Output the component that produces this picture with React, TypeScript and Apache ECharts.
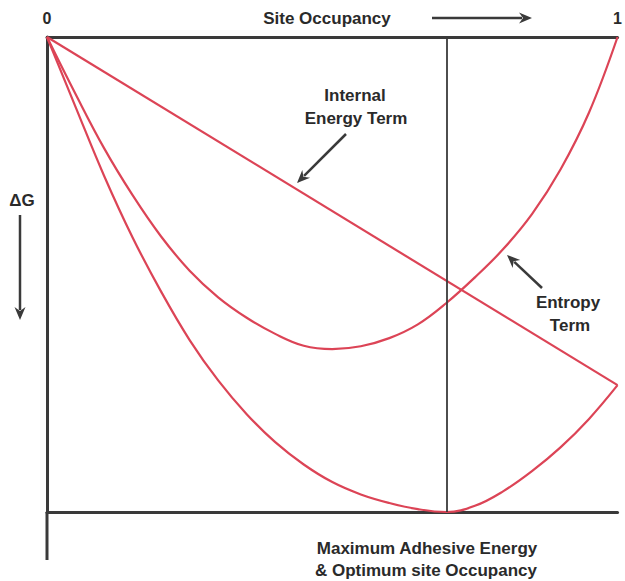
import React, { useEffect, useRef } from "react";
import * as echarts from "echarts";

// Site occupancy (theta) and depth of ΔG (0 = top line, 100 = bottom line)
const theta = [0, 0.05, 0.1, 0.15, 0.2, 0.25, 0.3, 0.35, 0.4, 0.45, 0.5, 0.55, 0.6, 0.65, 0.7, 0.75, 0.8, 0.85, 0.9, 0.95, 1];

const internalTheta = [0, 1];
const internalDG = [0, 73.3];

const entropyDG = [0, 12.0, 23.4, 33.3, 42.0, 49.2, 54.8, 59.1, 62.5, 65.0, 65.7, 65.1, 63.4, 60.5, 56.0, 50.6, 44.6, 37.3, 27.9, 15.9, 0];

const totalDG = [0, 14.7, 29.2, 42.2, 53.6, 63.8, 72.3, 79.4, 85.3, 90.0, 93.7, 96.3, 98.1, 99.4, 100, 98.7, 95.6, 91.4, 86.4, 80.4, 73.3];

const optimumTheta = 0.697;
const xTickLabels = ["0", "1"];

const RED = "#dc4456";
const DARK = "#3a3a3a";
const TEXT = "#2a2a2a";
const FONT = "'Liberation Sans', Arial, sans-serif";

function zip(a: number[], b: number[]) {
  return a.map((v, i) => [v, b[i]]);
}

function arrow(x1: number, y1: number, x2: number, y2: number) {
  const ang = Math.atan2(y2 - y1, x2 - x1);
  const hl = 13;
  const hw = 5.5;
  const c = Math.cos(ang);
  const s = Math.sin(ang);
  const bx = x2 - hl * c;
  const by = y2 - hl * s;
  return [
    {
      type: "line",
      shape: { x1, y1, x2: bx + 3 * c, y2: by + 3 * s },
      style: { stroke: DARK, lineWidth: 2.5 },
    },
    {
      type: "polygon",
      shape: {
        points: [
          [x2, y2],
          [bx + hw * s, by - hw * c],
          [bx + 4 * c, by + 4 * s],
          [bx - hw * s, by + hw * c],
        ],
      },
      style: { fill: DARK },
    },
  ];
}

function txt(text: string, x: number, y: number) {
  return {
    type: "text",
    x,
    y,
    style: {
      text,
      fill: TEXT,
      font: `bold 17px ${FONT}`,
      textAlign: "center",
      textVerticalAlign: "middle",
    },
  };
}

export default function App() {
  const ref = useRef<HTMLDivElement>(null);
  useEffect(() => {
    document.body.style.margin = "0";
    if (!ref.current) return;
    const chart = echarts.init(ref.current, undefined, { renderer: "svg" });
    const lineSeries = (name: string, data: number[][], smooth: boolean) => ({
      name,
      type: "line",
      data,
      smooth: smooth ? 0.4 : false,
      symbol: "none",
      lineStyle: { color: RED, width: 2.2 },
      clip: false,
    });
    chart.setOption({
      animation: false,
      backgroundColor: "#ffffff",
      grid: { left: 47, top: 37, width: 580, height: 475 },
      xAxis: [
        {
          type: "value",
          min: 0,
          max: 1,
          interval: 1,
          position: "top",
          axisLine: { show: true, onZero: false, lineStyle: { color: DARK, width: 3 } },
          axisTick: { show: false },
          splitLine: { show: false },
          axisLabel: {
            show: true,
            margin: 11,
            color: TEXT,
            fontSize: 16,
            fontWeight: "bold",
            fontFamily: FONT,
            formatter: (v: number) => (v === 0 ? xTickLabels[0] : xTickLabels[1]),
          },
        },
        {
          type: "value",
          min: 0,
          max: 1,
          position: "bottom",
          axisLine: { show: true, onZero: false, lineStyle: { color: DARK, width: 3 } },
          axisTick: { show: false },
          splitLine: { show: false },
          axisLabel: { show: false },
        },
      ],
      yAxis: {
        type: "value",
        min: 0,
        max: 100,
        inverse: true,
        axisLine: { show: true, onZero: false, lineStyle: { color: DARK, width: 3 } },
        axisTick: { show: false },
        splitLine: { show: false },
        axisLabel: { show: false },
      },
      series: [
        lineSeries("Internal Energy Term", zip(internalTheta, internalDG), false),
        lineSeries("Entropy Term", zip(theta, entropyDG), true),
        {
          ...lineSeries("Total", zip(theta, totalDG), true),
          markLine: {
            silent: true,
            symbol: "none",
            label: { show: false },
            lineStyle: { color: DARK, width: 1.8, type: "solid" },
            data: [{ xAxis: optimumTheta }],
          },
        },
      ],
      graphic: [
        {
          type: "line",
          shape: { x1: 47, y1: 512, x2: 47, y2: 560 },
          style: { stroke: DARK, lineWidth: 3 },
        },
        txt("Site Occupancy", 327, 18),
        ...arrow(432, 18, 532, 18),
        txt("ΔG", 22, 200),
        ...arrow(20, 215, 20, 320),
        txt("Internal", 355, 95),
        txt("Energy Term", 356, 118),
        ...arrow(346, 134, 297, 183),
        txt("Entropy", 568, 302),
        txt("Term", 570, 325),
        ...arrow(542, 288, 507, 255),
        txt("Maximum Adhesive Energy", 427, 548),
        txt("& Optimum site Occupancy", 426, 570),
      ],
    });
    return () => chart.dispose();
  }, []);
  return <div ref={ref} style={{ width: 625, height: 581 }} />;
}
